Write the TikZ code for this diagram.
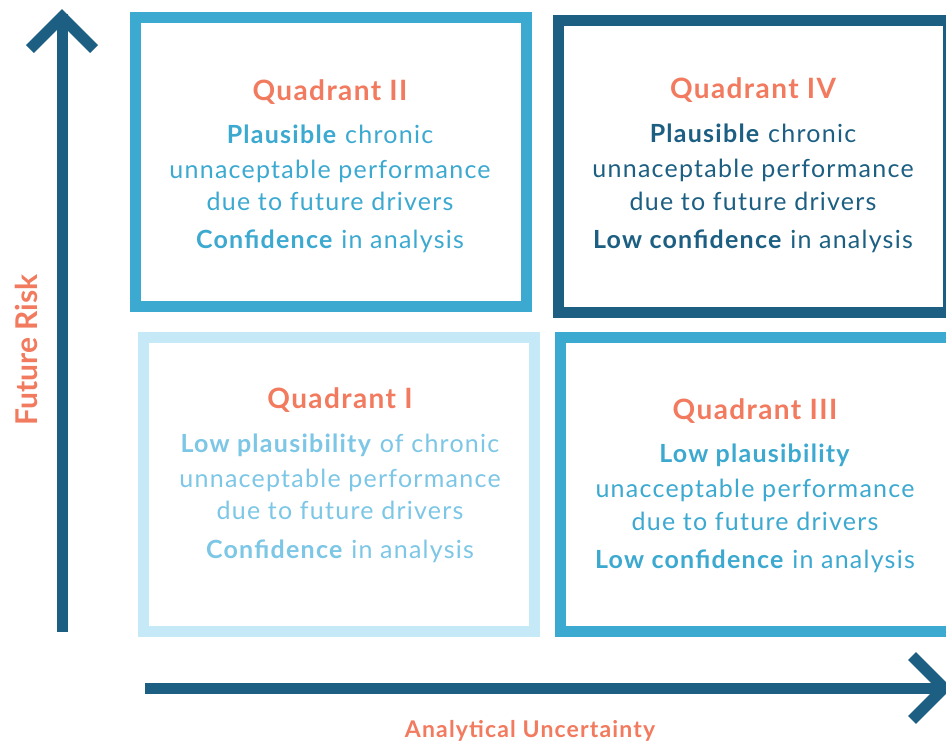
\documentclass[tikz,border=0pt]{standalone}
\usepackage{fontspec}
\setmainfont{Lato}[LetterSpace=5]
\newfontfamily\axisfont{Lato}
\definecolor{darkb}{HTML}{1C5F82}
\definecolor{midb}{HTML}{3CA9D0}
\definecolor{lightb}{HTML}{C6E9F8}
\definecolor{txtq1}{HTML}{7CC6E6}
\definecolor{salmon}{HTML}{F27A5E}
\begin{document}
\begin{tikzpicture}[x=1pt,y=-1pt,
  qbox/.style={draw, line width=11pt, rectangle, inner sep=0pt, outer sep=0pt, fill=white},
  qtitle/.style={anchor=base, text=salmon, font=\fontsize{28}{28}\selectfont\bfseries},
  qbody/.style={anchor=base, font=\fontsize{25}{25}\selectfont},
  axis/.style={draw=darkb, line width=11pt},
  axislabel/.style={text=salmon, anchor=base}]
\useasboundingbox (0,0) rectangle (946,744);
\clip (0,0) rectangle (946,744);
\fill[white] (0,0) rectangle (946,744);

% quadrant boxes
\node[qbox, draw=midb, minimum width=391pt, minimum height=289pt] (q2) at (331,162) {};
\node[qbox, draw=darkb, minimum width=389.5pt, minimum height=292pt] (q4) at (753.25,166.5) {};
\node[qbox, draw=lightb, minimum width=391pt, minimum height=294pt] (q1) at (339,484.5) {};
\node[qbox, draw=midb, minimum width=399.5pt, minimum height=294pt] (q3) at (760.25,484.5) {};

% Quadrant II
\node[qtitle] (q2t) at (330,100) {Quadrant II};
\node[qbody, text=midb] (q2a) at (330,143) {\textbf{Plausible} chronic};
\node[qbody, text=midb] (q2b) at (330,178) {unnaceptable performance};
\node[qbody, text=midb] (q2c) at (330,210) {due to future drivers};
\node[qbody, text=midb] (q2d) at (330,248) {\textbf{Confidence} in analysis};

% Quadrant IV
\node[qtitle] (q4t) at (753,98) {Quadrant IV};
\node[qbody, text=darkb] (q4a) at (753,142) {\textbf{Plausible} chronic};
\node[qbody, text=darkb] (q4b) at (753,177) {unnaceptable performance};
\node[qbody, text=darkb] (q4c) at (753,210) {due to future drivers};
\node[qbody, text=darkb] (q4d) at (753,248) {\textbf{Low confidence} in analysis};

% Quadrant I
\node[qtitle] (q1t) at (340,408) {Quadrant I};
\node[qbody, text=txtq1] (q1a) at (340,452) {\textbf{Low plausibility} of chronic};
\node[qbody, text=txtq1] (q1b) at (340,487) {unnaceptable performance};
\node[qbody, text=txtq1] (q1c) at (340,519) {due to future drivers};
\node[qbody, text=txtq1] (q1d) at (340,558) {\textbf{Confidence} in analysis};

% Quadrant III
\node[qtitle] (q3t) at (755,419) {Quadrant III};
\node[qbody, text=midb] (q3a) at (755,462) {\textbf{Low plausibility}};
\node[qbody, text=midb] (q3b) at (755,497) {unacceptable performance};
\node[qbody, text=midb] (q3c) at (755,530) {due to future drivers};
\node[qbody, text=midb] (q3d) at (755,568) {\textbf{Low confidence} in analysis};

% axes
\coordinate (vbot) at (62,632);
\coordinate (vtop) at (62,14);
\coordinate (vtip) at (62,17);
\coordinate (vwl) at (30,49);
\coordinate (vwr) at (94,49);
\draw[axis] (vbot) -- (vtop);
\draw[axis, line join=miter] (vwl) -- (vtip) -- (vwr);

\coordinate (hleft) at (145,688);
\coordinate (hright) at (940,688);
\coordinate (htip) at (944,688);
\coordinate (hwu) at (912,656);
\coordinate (hwd) at (912,720);
\draw[axis] (hleft) -- (hright);
\draw[axis, line join=miter] (hwu) -- (htip) -- (hwd);

\node[axislabel, rotate=90, font=\axisfont\fontsize{30}{30}\selectfont\bfseries] (ylab) at (37,350) {Future Risk};
\node[axislabel, font=\fontsize{23}{23}\selectfont\bfseries] (xlab) at (530,737) {Analytical Uncertainty};
\end{tikzpicture}
\end{document}
